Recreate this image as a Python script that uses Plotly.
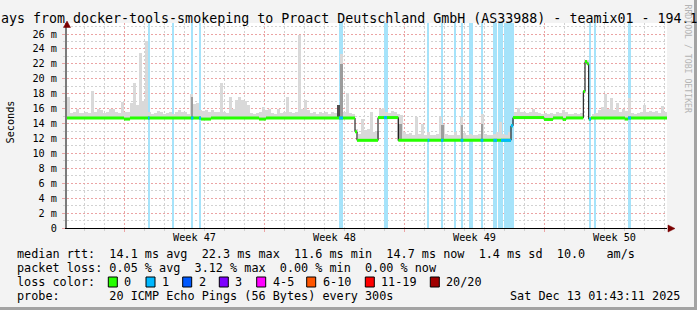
import plotly.graph_objects as go

# ---------------- page geometry ----------------
W, H = 697, 310
L, R, T, B = 67, 30, 23, 82
PW, PH = W - L - R, H - T - B

# ---------------- data ----------------
title_text = "ays from docker-tools-smokeping to Proact Deutschland GmbH (AS33988) - teamix01 - 194.1"
y_title = "Seconds"
side_text = "RRDTOOL / TOBI OETIKER"
days_total = 30.0
y_max_ms = 27.474

y_tick_vals = [0, 2, 4, 6, 8, 10, 12, 14, 16, 18, 20, 22, 24, 26]
y_tick_text = ["0", "2 m", "4 m", "6 m", "8 m", "10 m", "12 m", "14 m", "16 m",
               "18 m", "20 m", "22 m", "24 m", "26 m"]

week_start = 2.85
week_labels = ["Week 47", "Week 48", "Week 49", "Week 50"]
week_label_pos = [6.35, 13.35, 20.35, 27.35]

# median RTT (ms) as step changes: time in days since start
median_t = [0.0, 2.85, 3.15, 6.7, 7.2, 9.6, 9.95, 14.4, 14.5, 15.55, 16.565,
            22.2, 22.3, 23.85, 24.3, 24.8, 24.95, 25.815, 25.9, 26.0, 26.085,
            26.2, 27.9, 28.05]
median_v = [14.75, 14.6, 14.75, 14.6, 14.75, 14.6, 14.75, 12.9, 11.75, 14.8, 11.75,
            13.7, 14.8, 14.55, 14.75, 14.55, 14.75, 18.3, 22.3, 22.0, 14.6,
            14.75, 14.6, 14.75]

# median drawn in "1 lost" colour
loss1_t0 = [4.05, 6.2, 6.6, 13.6, 15.85, 18.03, 18.7, 19.68, 20.68, 21.32, 21.7, 26.1, 28.05]
loss1_t1 = [4.13, 6.32, 6.7, 13.8, 16.0, 18.12, 18.82, 19.82, 20.82, 21.5, 22.3, 26.2, 28.2]

# background loss bands
lossband_t0 = [4.05, 5.28, 6.2, 6.6, 13.58, 15.85, 18.03, 18.7, 19.35, 19.68, 20.1,
               20.68, 21.32, 21.57, 21.85, 26.1, 26.35, 28.05]
lossband_t1 = [4.13, 5.35, 6.32, 6.7, 13.82, 16.05, 18.12, 18.82, 19.45, 19.82, 20.3,
               20.82, 21.5, 21.8, 22.35, 26.2, 26.45, 28.2]

# smoke (upper spread of the 20 pings, ms), one value per 0.15 day bin
bin_width = 0.15
smoke_top = [
    17.6, 15.4, 15.5, 16.0, 15.4, 15.4, 15.5, 15.4, 18.4, 15.6,
    16.0, 15.8, 15.4, 15.5, 16.0, 15.9, 15.6, 15.4, 16.9, 15.5,
    15.6, 16.7, 19.5, 16.5, 23.5, 17.0, 25.0, 15.6, 15.3, 15.4,
    15.7, 15.5, 15.3, 15.4, 15.5, 15.3, 15.6, 15.8, 15.6, 15.5,
    15.3, 18.0, 16.6, 16.8, 15.8, 15.7, 15.8, 15.5, 15.8, 15.6,
    15.5, 19.5, 15.6, 15.4, 17.6, 16.0, 17.2, 17.6, 17.2, 17.0,
    16.5, 15.4, 15.3, 15.4, 15.5, 16.2, 15.8, 16.0, 15.4, 15.3,
    16.0, 15.4, 15.5, 17.6, 15.6, 15.4, 15.5, 25.8, 16.0, 17.2,
    15.8, 15.4, 15.5, 15.3, 15.6, 15.4, 15.5, 15.3, 15.6, 15.4,
    16.5, 23.3, 15.6, 18.1, 15.4, 15.3, 13.3, 12.6, 14.6, 13.1,
    13.3, 15.5, 12.8, 13.0, 16.0, 16.1, 15.5, 15.4, 15.7, 15.6,
    15.3, 15.1, 12.8, 12.6, 12.7, 12.5, 14.9, 12.6, 14.0, 12.5,
    12.8, 12.4, 12.5, 12.6, 14.9, 14.0, 12.6, 12.4, 12.5, 12.8,
    12.5, 14.9, 12.7, 12.4, 12.6, 12.5, 12.4, 12.6, 15.3, 12.6,
    12.5, 12.4, 12.6, 12.8, 14.2, 12.6, 12.5, 12.8, 13.5, 15.5,
    16.1, 15.6, 15.5, 15.4, 15.6, 16.0, 15.6, 15.4, 15.3, 15.4,
    15.3, 15.4, 15.3, 15.6, 15.4, 15.8, 15.5, 15.3, 15.3, 15.4,
    15.3, 15.4, 18.5, 22.5, 15.0, 15.3, 15.4, 15.8, 16.2, 18.0,
    16.0, 17.4, 15.8, 16.8, 15.6, 16.0, 15.7, 17.4, 15.4, 15.3,
    15.4, 15.6, 16.5, 15.5, 15.7, 15.5, 15.7, 15.4, 16.3, 15.5,
]

# denser smoke (pings bunched) during loss events
smoke_mid_t0 = [6.2, 13.65, 16.55, 18.7, 19.7, 20.7]
smoke_mid_t1 = [6.3, 13.8, 16.75, 18.85, 19.8, 20.8]
smoke_mid_lo = [14.9, 14.9, 11.8, 11.8, 11.8, 11.8]
smoke_mid_hi = [17.5, 22.0, 14.0, 13.8, 13.8, 14.0]
smoke_dark_t0 = [13.5]
smoke_dark_t1 = [13.65]
smoke_dark_lo = [14.9]
smoke_dark_hi = [16.5]

# legend / statistics text
stats_median = "median rtt:  14.1 ms avg  22.3 ms max  11.6 ms min  14.7 ms now  1.4 ms sd  10.0   am/s"
stats_loss = "packet loss: 0.05 % avg  3.12 % max  0.00 % min  0.00 % now"
loss_color_label = "loss color:"
loss_labels = ["0", "1", "2", "3", "4-5", "6-10", "11-19", "20/20"]
probe_text = "probe:       20 ICMP Echo Pings (56 Bytes) every 300s"
date_text = "Sat Dec 13 01:43:11 2025"

# ---------------- styles ----------------
MONO = "DejaVu Sans Mono"
BG = "#f3f3f3"
loss_colors = ["#26ff00", "#00b8ff", "#0059ff", "#7e00ff", "#ff00ff", "#ff5500", "#ff0000", "#a00000"]
box_left_px = [108.3, 146.0, 182.7, 219.3, 256.7, 306.7, 365.3, 430.3]


def nb(s):
    return s.replace(" ", "\u00a0")


def px_x(px):
    return (px - L) / PW


def px_y(py):
    return (H - B - py) / PH


def median_at(d):
    v = median_v[0]
    for t, val in zip(median_t, median_v):
        if t <= d + 1e-9:
            v = val
        else:
            break
    return v


fig = go.Figure()

# loss bands
fig.add_trace(go.Bar(
    x=[(a + b) / 2 for a, b in zip(lossband_t0, lossband_t1)],
    y=[y_max_ms] * len(lossband_t0), base=0,
    width=[b - a for a, b in zip(lossband_t0, lossband_t1)],
    marker=dict(color="#a6e3fa", line=dict(width=0)), hoverinfo="skip"))

# smoke
centers = [bin_width * (i + 0.5) for i in range(len(smoke_top))]
bases = [median_at(c) - 0.15 for c in centers]
fig.add_trace(go.Bar(
    x=centers, y=[max(t - b, 0) for t, b in zip(smoke_top, bases)], base=bases,
    width=bin_width, marker=dict(color="#d9d9d9", line=dict(width=0)), hoverinfo="skip"))

fig.add_trace(go.Bar(
    x=[(a + b) / 2 for a, b in zip(smoke_mid_t0, smoke_mid_t1)],
    y=[h - l for l, h in zip(smoke_mid_lo, smoke_mid_hi)], base=smoke_mid_lo,
    width=[b - a for a, b in zip(smoke_mid_t0, smoke_mid_t1)],
    marker=dict(color="#9c9c9c", line=dict(width=0)), hoverinfo="skip"))
fig.add_trace(go.Bar(
    x=[(a + b) / 2 for a, b in zip(smoke_dark_t0, smoke_dark_t1)],
    y=[h - l for l, h in zip(smoke_dark_lo, smoke_dark_hi)], base=smoke_dark_lo,
    width=[b - a for a, b in zip(smoke_dark_t0, smoke_dark_t1)],
    marker=dict(color="#4e4e4e", line=dict(width=0)), hoverinfo="skip"))

# median: black step connector
fig.add_trace(go.Scatter(
    x=median_t + [days_total], y=median_v + [median_v[-1]], mode="lines",
    line=dict(color="#000000", width=1, shape="hv"), hoverinfo="skip"))

# median: green horizontal segments
gx, gy = [], []
ends = median_t[1:] + [days_total]
for t0, t1, v in zip(median_t, ends, median_v):
    gx += [t0, t1, None]
    gy += [v, v, None]
fig.add_trace(go.Scatter(x=gx, y=gy, mode="lines",
                         line=dict(color=loss_colors[0], width=3), hoverinfo="skip"))

# median: blue segments where one ping was lost
bx, by = [], []
for a, b in zip(loss1_t0, loss1_t1):
    pts = [a] + [t for t in median_t if a < t < b] + [b]
    for p0, p1 in zip(pts[:-1], pts[1:]):
        v = median_at((p0 + p1) / 2)
        bx += [p0, p1, None]
        by += [v, v, None]
fig.add_trace(go.Scatter(x=bx, y=by, mode="lines",
                         line=dict(color=loss_colors[1], width=3), hoverinfo="skip"))

RED_GRID = "#eba4a4"
GRAY_GRID = "#d2d2d2"

fig.update_layout(
    width=W, height=H, margin=dict(l=L, r=R, t=T, b=B, pad=0),
    paper_bgcolor=BG, plot_bgcolor="#ffffff", showlegend=False, barmode="overlay",
    bargap=0,
    font=dict(family=MONO, size=10.2, color="#000000"),
    xaxis=dict(range=[0, days_total], showticklabels=False, zeroline=False,
               tick0=week_start, dtick=7, showgrid=True, gridcolor=RED_GRID,
               griddash="2px,2px", gridwidth=1,
               ticks="outside", ticklen=3, tickcolor=RED_GRID,
               minor=dict(tick0=week_start, dtick=1, showgrid=True, gridcolor=GRAY_GRID,
                          griddash="2px,2px", ticks="outside", ticklen=2, tickcolor=GRAY_GRID),
               showline=True, linecolor="#000000", linewidth=1, fixedrange=True),
    yaxis=dict(range=[0, y_max_ms], tickvals=y_tick_vals, ticktext=y_tick_text,
               zeroline=False, showgrid=True, gridcolor=RED_GRID, griddash="2px,2px",
               ticks="outside", ticklen=3, tickcolor=RED_GRID, ticklabelstandoff=3,
               tickfont=dict(family=MONO, size=10.2, color="#000000"),
               minor=dict(dtick=1, showgrid=True, gridcolor=GRAY_GRID, griddash="2px,2px",
                          ticks="outside", ticklen=2, tickcolor=GRAY_GRID),
               showline=True, linecolor="#7a7a7a", linewidth=2, fixedrange=True),
)

ann = []
# title (visible part)
ann.append(dict(text=nb(title_text), x=px_x(-1), y=px_y(19), xref="paper", yref="paper",
                xanchor="left", yanchor="middle", showarrow=False,
                font=dict(family=MONO, size=13.3, color="#000000")))
# y axis title
ann.append(dict(text=y_title, x=px_x(9.5), y=px_y(122), xref="paper", yref="paper",
                xanchor="center", yanchor="middle", textangle=-90, showarrow=False,
                font=dict(family=MONO, size=10.2, color="#000000")))
# side credit
ann.append(dict(text=nb(side_text), x=px_x(687.5), y=px_y(59), xref="paper", yref="paper",
                xanchor="center", yanchor="middle", textangle=90, showarrow=False,
                font=dict(family=MONO, size=8.2, color="#b4b4b4")))
# week labels
for lab, pos in zip(week_labels, week_label_pos):
    ann.append(dict(text=nb(lab), x=pos, y=px_y(237.5), xref="x", yref="paper",
                    xanchor="center", yanchor="middle", showarrow=False,
                    font=dict(family=MONO, size=10.2, color="#000000")))
# statistics rows
rows = [(stats_median, 254.3), (stats_loss, 268.3), (loss_color_label, 282.3), (probe_text, 296.0)]
for txt, py in rows:
    ann.append(dict(text=nb(txt), x=px_x(14.5), y=px_y(py), xref="paper", yref="paper",
                    xanchor="left", yanchor="middle", showarrow=False,
                    font=dict(family=MONO, size=11.8, color="#000000")))
ann.append(dict(text=nb(date_text), x=px_x(682), y=px_y(296.0), xref="paper", yref="paper",
                xanchor="right", yanchor="middle", showarrow=False,
                font=dict(family=MONO, size=11.8, color="#000000")))

shapes = []
for lab, col, bl in zip(loss_labels, loss_colors, box_left_px):
    shapes.append(dict(type="rect", xref="paper", yref="paper",
                       x0=px_x(bl), x1=px_x(bl + 9), y0=px_y(287), y1=px_y(277),
                       fillcolor=col, line=dict(color="#000000", width=1)))
    ann.append(dict(text=nb(lab), x=px_x(bl + 14), y=px_y(282.3), xref="paper", yref="paper",
                    xanchor="left", yanchor="middle", showarrow=False,
                    font=dict(family=MONO, size=11.8, color="#000000")))

# axis arrows
shapes.append(dict(type="path", xref="paper", yref="paper",
                   path=f"M {px_x(63.5)},{px_y(27.5)} L {px_x(70.5)},{px_y(27.5)} L {px_x(67)},{px_y(21)} Z",
                   fillcolor="#7a0000", line=dict(color="#7a0000", width=0.5)))
shapes.append(dict(type="path", xref="paper", yref="paper",
                   path=f"M {px_x(668)},{px_y(225)} L {px_x(668)},{px_y(232)} L {px_x(675)},{px_y(228.5)} Z",
                   fillcolor="#7a0000", line=dict(color="#7a0000", width=0.5)))
# frame shading
shapes.append(dict(type="rect", xref="paper", yref="paper", layer="above",
                   x0=px_x(694), x1=px_x(697), y0=px_y(310), y1=px_y(0),
                   fillcolor="#a3a3a3", line=dict(width=0)))
shapes.append(dict(type="rect", xref="paper", yref="paper", layer="above",
                   x0=px_x(0), x1=px_x(697), y0=px_y(310), y1=px_y(307),
                   fillcolor="#a3a3a3", line=dict(width=0)))

fig.update_layout(annotations=ann, shapes=shapes)
fig.write_html("out.html")
